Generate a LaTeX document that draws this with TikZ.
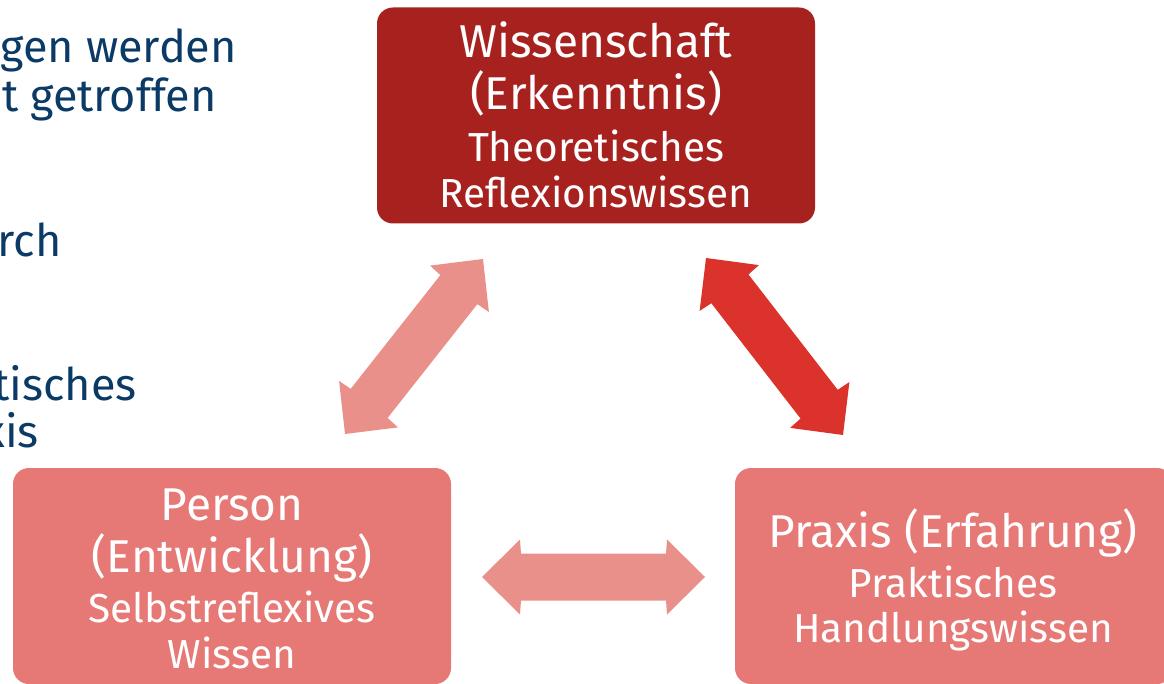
\documentclass[tikz,border=0pt]{standalone}
\usepackage{fontspec}
\setmainfont{Fira Sans}
\usetikzlibrary{calc}
\definecolor{darkred}{HTML}{A7221F}
\definecolor{pinkbox}{HTML}{E67875}
\definecolor{lightarrow}{HTML}{E9908B}
\definecolor{redarrow}{HTML}{DB322B}
\definecolor{textblue}{HTML}{0B3A66}
% fat double arrow between two named tip coordinates
\newcommand{\fatarrow}[3]{%
  \fill[#3] (#1)
    -- ($(#1)!38pt!(#2)!37.5pt!90:(#2)$)
    -- ($(#1)!39pt!(#2)!23.5pt!90:(#2)$)
    -- ($(#2)!39pt!(#1)!23.5pt!-90:(#1)$)
    -- ($(#2)!38pt!(#1)!37.5pt!-90:(#1)$)
    -- (#2)
    -- ($(#2)!38pt!(#1)!37.5pt!90:(#1)$)
    -- ($(#2)!39pt!(#1)!23.5pt!90:(#1)$)
    -- ($(#1)!39pt!(#2)!23.5pt!-90:(#2)$)
    -- ($(#1)!38pt!(#2)!37.5pt!-90:(#2)$)
    -- cycle;}
\begin{document}
\begin{tikzpicture}[x=1pt,y=-1pt,
  box/.style={rectangle, rounded corners=16pt, minimum width=438pt, minimum height=216pt, inner sep=0pt, draw=none},
  big/.style={text=white, font=\fontsize{46}{50}\selectfont, anchor=base, inner sep=0pt},
  small/.style={text=white, font=\fontsize{40.5}{44}\selectfont, anchor=base, inner sep=0pt},
  side/.style={text=textblue, font=\fontsize{45}{49}\selectfont, anchor=base east, inner sep=0pt}]
\useasboundingbox (0,0) rectangle (1164,684);
\clip (0,0) rectangle (1164,684);
% left-hand text (cut off by the picture edge)
\node[side] (s1) at (237,63) {gen werden};
\node[side] (s2) at (217,112) {t getroffen};
\node[side] (s3) at (62,257) {rch};
\node[side] (s4) at (137,400) {tisches};
\node[side] (s5) at (39,447) {xis};
% boxes
\node[box, fill=darkred] (wiss) at (596,115.5) {};
\node[box, fill=pinkbox] (pers) at (232,576) {};
\node[box, fill=pinkbox] (prax) at (954,576) {};
% box texts
\node[big] (w1) at (596,58) {Wissenschaft};
\node[big] (w2) at (596,110) {(Erkenntnis)};
\node[small] (w3) at (596,162) {Theoretisches};
\node[small] (w4) at (596,208) {Reflexionswissen};
\node[big] (p1) at (232,520) {Person};
\node[big] (p2) at (232,572) {(Entwicklung)};
\node[small] (p3) at (232,622) {Selbstreflexives};
\node[small] (p4) at (232,668) {Wissen};
\node[big] (r1) at (953,547) {Praxis (Erfahrung)};
\node[small] (r2) at (953,597) {Praktisches};
\node[small] (r3) at (953,642) {Handlungswissen};
% arrow tips
\coordinate (la) at (345,434);
\coordinate (lb) at (483,259);
\coordinate (ra) at (706,258);
\coordinate (rb) at (843,435);
\coordinate (ha) at (482,577);
\coordinate (hb) at (705,577);
\fatarrow{la}{lb}{lightarrow}
\fatarrow{ra}{rb}{redarrow}
\fatarrow{ha}{hb}{lightarrow}
\end{tikzpicture}
\end{document}
